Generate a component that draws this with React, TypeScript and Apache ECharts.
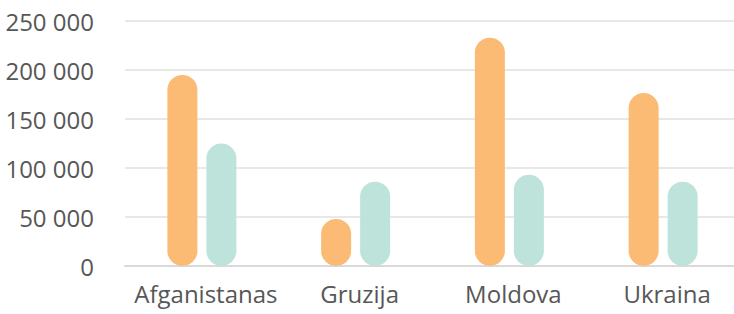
import React, { useEffect, useRef } from "react";
import * as echarts from "echarts";

const categories = ["Afganistanas", "Gruzija", "Moldova", "Ukraina"];
const seriesA = [195000, 48000, 233000, 176500];
const seriesB = [125000, 86000, 93000, 86000];
const yTicks = [0, 50000, 100000, 150000, 200000, 250000];

const fmt = (v: number) => String(v).replace(/\B(?=(\d{3})+(?!\d))/g, " ");

export default function App() {
  const ref = useRef<HTMLDivElement>(null);
  useEffect(() => {
    if (!ref.current) return;
    const chart = echarts.init(ref.current, undefined, { renderer: "svg" });
    const font = "Open Sans";
    chart.setOption({
      animation: false,
      grid: { left: 125, width: 615, top: 21, bottom: 48, containLabel: false, outerBoundsMode: "none" },
      xAxis: {
        type: "category",
        data: categories,
        axisLine: { show: true, lineStyle: { color: "#d9d9d9", width: 2 } },
        axisTick: { show: false },
        axisLabel: { color: "#575757", fontSize: 24, fontFamily: font, margin: 15, interval: 0, padding: [0, 0, 0, 8] },
      },
      yAxis: {
        type: "value",
        min: yTicks[0],
        max: yTicks[yTicks.length - 1],
        interval: 50000,
        axisLine: { show: false },
        axisTick: { show: false },
        splitLine: { lineStyle: { color: "#e8e8e8", width: 2 } },
        axisLabel: { color: "#575757", fontSize: 24, fontFamily: font, margin: 31, formatter: (v: number) => fmt(v) },
      },
      series: [
        {
          type: "bar",
          data: seriesA,
          barWidth: 30,
          barGap: "30%",
          itemStyle: { color: "#fbbb74", borderRadius: 15 },
          z: 3,
        },
        {
          type: "bar",
          data: seriesB,
          barWidth: 30,
          itemStyle: { color: "#bee3da", borderRadius: 15 },
          z: 3,
        },
      ],
    });
    return () => chart.dispose();
  }, []);
  return <div ref={ref} style={{ width: 734, height: 314, position: "absolute", left: 0, top: 0, overflow: "hidden" }} />;
}
